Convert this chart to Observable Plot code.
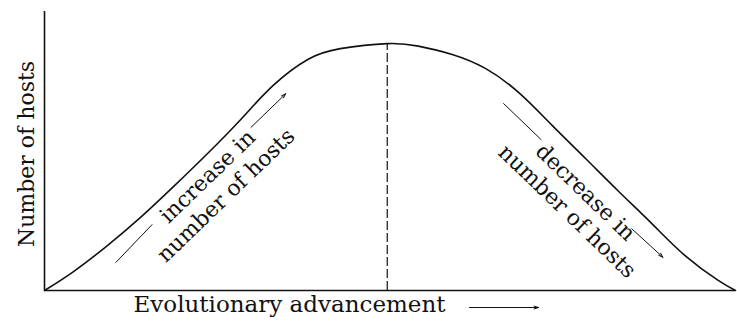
<!DOCTYPE html>
<html>
<head>
<meta charset="utf-8">
<script src="https://cdn.jsdelivr.net/npm/d3@7"></script>
<script src="https://cdn.jsdelivr.net/npm/@observablehq/plot@0.6"></script>
<style>
  html, body { margin: 0; padding: 0; background: #fff; }
</style>
</head>
<body>
<div id="chart"></div>
<script>
// Curve: evolutionary advancement (0-100) vs number of hosts (0-100)
const advancement = [0, 4.2, 9.1, 13.9, 18.7, 23.6, 28.4, 33.1, 38.1, 42.8, 49.6, 54.1, 59.0, 63.8, 68.6, 73.5, 78.3, 83.1, 88.0, 92.7, 97.5, 100];
const hosts       = [0, 6.8, 16.1, 26.2, 37.3, 49.1, 61.3, 73.5, 82.8, 86.7, 88.5, 87.6, 84.6, 79.6, 71.0, 59.1, 47.3, 35.5, 23.7, 12.5, 3.6, 0];

// Peak marker (dashed vertical)
const peakAdvancement = [49.6];
const peakHosts = [88.5];

// Annotation labels
const yLabel = "Number of hosts";
const xLabel = "Evolutionary advancement";
const riseLabel = "increase in\nnumber of hosts";
const fallLabel = "decrease in\nnumber of hosts";
const riseLabelPos = {x: 24.8, y: 37.8};
const fallLabelPos = {x: 77.1, y: 32.1};

// Annotation strokes: [x1, y1, x2, y2, hasHead]
const strokeX1 = [10.3, 29.9, 66.4, 85.0, 61.5];
const strokeY1 = [10.0, 58.5, 67.1, 22.1, -6.1];
const strokeX2 = [15.6, 34.9, 71.9, 89.5, 71.5];
const strokeY2 = [23.7, 70.5, 54.0, 11.9, -6.1];
const strokeHead = [false, true, false, true, true];

const curve = advancement.map((a, i) => ({a, h: hosts[i]}));
const strokes = strokeX1.map((x1, i) => ({x1, y1: strokeY1[i], x2: strokeX2[i], y2: strokeY2[i], head: strokeHead[i]}));
const ink = "#111";

const chart = Plot.plot({
  width: 737,
  height: 323,
  marginLeft: 44,
  marginRight: 2,
  marginTop: 11,
  marginBottom: 33,
  x: {domain: [0, 100], axis: null},
  y: {domain: [0, 100], axis: null},
  style: {fontFamily: "'DejaVu Serif', serif", fontSize: "22px", background: "#fff", color: ink, overflow: "visible"},
  marks: [
    Plot.ruleX([0], {stroke: ink, strokeWidth: 1.6}),
    Plot.ruleY([0], {stroke: ink, strokeWidth: 1.6}),
    Plot.ruleX(peakAdvancement, {x: d => d, y1: 0, y2: peakHosts[0], stroke: ink, strokeWidth: 1.2, strokeDasharray: "9,3"}),
    Plot.line(curve, {x: "a", y: "h", curve: "natural", stroke: ink, strokeWidth: 1.6}),
    Plot.link(strokes.filter(d => !d.head), {x1: "x1", y1: "y1", x2: "x2", y2: "y2", stroke: ink, strokeWidth: 1}),
    Plot.arrow(strokes.filter(d => d.head), {x1: "x1", y1: "y1", x2: "x2", y2: "y2", stroke: ink, strokeWidth: 1, headLength: 7, headAngle: 35, clip: false}),
    Plot.text([riseLabel], {x: riseLabelPos.x, y: riseLabelPos.y, rotate: -44, lineHeight: 1.2, fill: ink}),
    Plot.text([fallLabel], {x: fallLabelPos.x, y: fallLabelPos.y, rotate: 44, lineHeight: 1.2, fill: ink}),
    Plot.text([yLabel], {frameAnchor: "left", textAnchor: "middle", rotate: -90, dx: -18, dy: 3, fill: ink}),
    Plot.text([xLabel], {frameAnchor: "bottom-left", textAnchor: "start", dx: 89, dy: 21, fontSize: 23, fill: ink})
  ]
});
document.getElementById("chart").appendChild(chart);
</script>
</body>
</html>
